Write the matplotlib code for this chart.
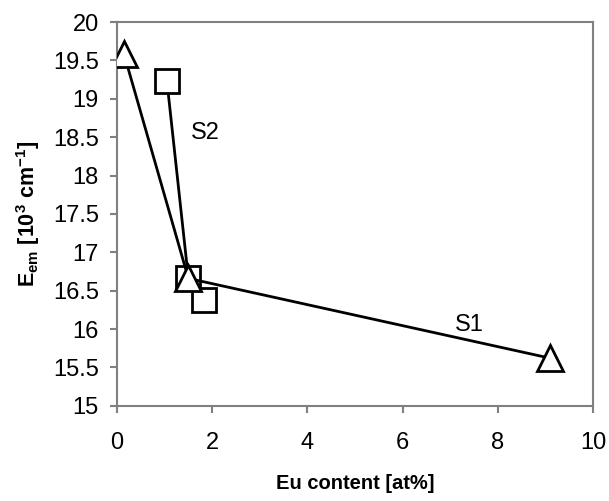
import numpy as np
import matplotlib.pyplot as plt

plt.rcParams['font.family'] = ['Liberation Sans', 'DejaVu Sans']
plt.rcParams['mathtext.fontset'] = 'custom'
plt.rcParams['mathtext.rm'] = 'Liberation Sans'
plt.rcParams['mathtext.bf'] = 'Liberation Sans:bold'

# S1 series (triangles)
s1_x = [0.15, 1.5, 9.1]
s1_y = [19.58, 16.66, 15.62]
# S2 series (squares)
s2_x = [1.05, 1.5, 1.83]
s2_y = [19.23, 16.66, 16.38]

xticks = [0, 2, 4, 6, 8, 10]
yticks = [15, 15.5, 16, 16.5, 17, 17.5, 18, 18.5, 19, 19.5, 20]

fig = plt.figure(figsize=(6.09, 5.01), dpi=100)
ax = fig.add_axes([0.192, 0.190, 0.782, 0.766])

ax.plot(s2_x, s2_y, color='black', lw=2, marker='s', ms=17,
        mfc='white', mec='black', mew=2, zorder=3)
ax.plot(s1_x, s1_y, color='black', lw=2, marker='^', ms=19,
        mfc='white', mec='black', mew=2, zorder=4)

ax.text(1.85, 18.55, 'S2', fontsize=17, ha='center', va='center')
ax.text(7.4, 16.05, 'S1', fontsize=17, ha='center', va='center')

ax.set_xlim(0, 10)
ax.set_ylim(15, 20)
ax.set_xticks(xticks)
ax.set_xticklabels([str(t) for t in xticks])
ax.set_yticks(yticks)
ax.set_yticklabels([('%g' % t) for t in yticks])

for s in ax.spines.values():
    s.set_color('#808080')
    s.set_linewidth(1.5)
ax.tick_params(direction='out', length=5, width=1.5, color='#808080',
               labelsize=17, pad=8)
ax.tick_params(axis='x', pad=14)

ax.set_xlabel('Eu content [at%]', fontsize=14.5, fontweight='bold', labelpad=14)
ax.set_ylabel(r'E$_{\mathbf{em}}$ [10$^{\mathbf{3}}$ cm$^{\mathbf{-1}}$]',
              fontsize=15.5, fontweight='bold', labelpad=8)

fig.savefig('out.png', dpi=100)
